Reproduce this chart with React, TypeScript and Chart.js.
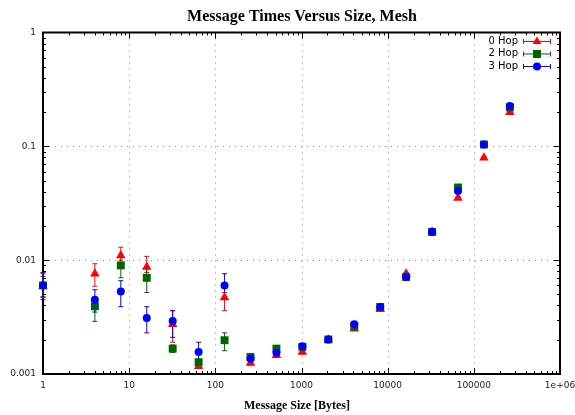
import { useEffect, useRef } from "react";
import { Chart, registerables } from "chart.js";

Chart.register(...registerables);

const chartTitle = "Message Times Versus Size, Mesh";
const xAxisTitle = "Message Size [Bytes]";
const seriesLabels = ["0 Hop", "2 Hop", "3 Hop"];
const seriesColors = ["#ff0000", "#006400", "#0000ff"];
const seriesPointStyles = ["triangle", "rect", "circle"];

const messageSizes = [1, 4, 8, 16, 32, 64, 128, 256, 512, 1024, 2048, 4096, 8192, 16384, 32768, 65536, 131072, 262144];

const hop0Times = [0.0059, 0.0076, 0.011, 0.0087, 0.00273, 0.00117, 0.0047, 0.00125, 0.00146, 0.00156, 0.002, 0.0025, 0.0037, 0.0076, 0.0178, 0.0352, 0.0792, 0.199];
const hop0Low = [0.0047, 0.0059, 0.01, 0.0078, 0.0019, 0.00112, 0.0036, 0.0012, 0.0014, 0.0015, 0.00195, 0.00245, 0.0036, 0.0074, 0.0174, 0.0345, 0.078, 0.196];
const hop0High = [0.0076, 0.0093, 0.013, 0.0108, 0.0036, 0.00122, 0.0052, 0.0013, 0.0015, 0.0016, 0.00205, 0.00255, 0.0038, 0.0078, 0.0182, 0.036, 0.081, 0.202];

const hop2Times = [0.006, 0.00393, 0.009, 0.007, 0.00167, 0.00127, 0.00198, 0.00141, 0.00167, 0.00173, 0.00201, 0.00262, 0.00388, 0.0071, 0.0177, 0.0435, 0.1038, 0.22];
const hop2Low = [0.0048, 0.0029, 0.007, 0.0052, 0.00155, 0.0012, 0.0016, 0.00135, 0.0016, 0.00166, 0.00195, 0.00255, 0.0038, 0.0069, 0.0173, 0.0425, 0.101, 0.216];
const hop2High = [0.0072, 0.0047, 0.0107, 0.0085, 0.0018, 0.00134, 0.0023, 0.00147, 0.00174, 0.0018, 0.00207, 0.0027, 0.00396, 0.0073, 0.0181, 0.0445, 0.106, 0.224];

const hop3Times = [0.006, 0.0045, 0.0053, 0.0031, 0.00292, 0.00156, 0.006, 0.00136, 0.00154, 0.00175, 0.00201, 0.00273, 0.00388, 0.0071, 0.0177, 0.0406, 0.1038, 0.226];
const hop3Low = [0.0045, 0.0035, 0.0039, 0.0023, 0.0021, 0.0013, 0.0046, 0.0013, 0.00148, 0.00168, 0.00195, 0.00265, 0.0038, 0.0069, 0.0173, 0.0398, 0.101, 0.221];
const hop3High = [0.0078, 0.0055, 0.0066, 0.0039, 0.0036, 0.0019, 0.0076, 0.00142, 0.0016, 0.00182, 0.00207, 0.00281, 0.00396, 0.0073, 0.0181, 0.0414, 0.106, 0.231];

const seriesTimes = [hop0Times, hop2Times, hop3Times];
const seriesLow = [hop0Low, hop2Low, hop3Low];
const seriesHigh = [hop0High, hop2High, hop3High];

const xTickValues = [1, 10, 100, 1000, 10000, 100000, 1000000];
const xTickLabels = ["1", "10", "100", "1000", "10000", "100000", "1e+06"];
const yTickValues = [0.001, 0.01, 0.1, 1];
const yTickLabels = ["0.001", "0.01", "0.1", "1"];

function drawMarker(ctx: CanvasRenderingContext2D, style: string, x: number, y: number, color: string) {
  ctx.fillStyle = color;
  ctx.beginPath();
  if (style === "triangle") {
    const r = 5;
    ctx.moveTo(x, y - r);
    ctx.lineTo(x + r * 0.866, y + r * 0.5);
    ctx.lineTo(x - r * 0.866, y + r * 0.5);
    ctx.closePath();
  } else if (style === "rect") {
    ctx.rect(x - 4, y - 4, 8, 8);
  } else {
    ctx.arc(x, y, 4, 0, Math.PI * 2);
  }
  ctx.fill();
}

const decorPlugin = {
  id: "decor",
  beforeDatasetsDraw(chart: any) {
    const { ctx, chartArea: a, scales } = chart;
    const x = scales.x;
    const y = scales.y;
    ctx.save();
    // dotted grid
    ctx.strokeStyle = "#8a8a8a";
    ctx.lineWidth = 1;
    ctx.setLineDash([1, 5]);
    xTickValues.slice(1, -1).forEach((v) => {
      const px = Math.round(x.getPixelForValue(v)) + 0.5;
      ctx.beginPath();
      ctx.moveTo(px, a.top);
      ctx.lineTo(px, a.bottom);
      ctx.stroke();
    });
    yTickValues.slice(1, -1).forEach((v) => {
      const py = Math.round(y.getPixelForValue(v)) + 0.5;
      ctx.beginPath();
      ctx.moveTo(a.left, py);
      ctx.lineTo(a.right, py);
      ctx.stroke();
    });
    ctx.setLineDash([]);
    // inward ticks
    ctx.strokeStyle = "#000";
    ctx.lineWidth = 1;
    for (let i = 0; i < xTickValues.length - 1; i++) {
      for (let m = 1; m <= 9; m++) {
        const v = xTickValues[i] * m;
        const px = Math.round(x.getPixelForValue(v)) + 0.5;
        const len = m === 1 ? 6 : 3;
        ctx.beginPath();
        ctx.moveTo(px, a.bottom);
        ctx.lineTo(px, a.bottom - len);
        ctx.moveTo(px, a.top);
        ctx.lineTo(px, a.top + len);
        ctx.stroke();
      }
    }
    for (let i = 0; i < yTickValues.length - 1; i++) {
      for (let m = 1; m <= 9; m++) {
        const v = yTickValues[i] * m;
        const py = Math.round(y.getPixelForValue(v)) + 0.5;
        const len = m === 1 ? 6 : 3;
        ctx.beginPath();
        ctx.moveTo(a.left, py);
        ctx.lineTo(a.left + len, py);
        ctx.moveTo(a.right, py);
        ctx.lineTo(a.right - len, py);
        ctx.stroke();
      }
    }
    // frame
    ctx.lineWidth = 2;
    ctx.strokeRect(a.left, a.top, a.right - a.left, a.bottom - a.top);
    // error bars
    ctx.lineWidth = 1;
    seriesTimes.forEach((_vals, si) => {
      ctx.strokeStyle = seriesColors[si];
      messageSizes.forEach((s, i) => {
        const px = x.getPixelForValue(s);
        const lo = y.getPixelForValue(seriesLow[si][i]);
        const hi = y.getPixelForValue(seriesHigh[si][i]);
        ctx.beginPath();
        ctx.moveTo(px, lo);
        ctx.lineTo(px, hi);
        ctx.moveTo(px - 2.5, lo);
        ctx.lineTo(px + 2.5, lo);
        ctx.moveTo(px - 2.5, hi);
        ctx.lineTo(px + 2.5, hi);
        ctx.stroke();
      });
    });
    ctx.restore();
  },
  afterDraw(chart: any) {
    const { ctx } = chart;
    ctx.save();
    ctx.fillStyle = "#000";
    ctx.textAlign = "center";
    ctx.textBaseline = "alphabetic";
    ctx.font = "bold 16px 'Liberation Serif'";
    ctx.fillText(chartTitle, 302, 21);
    ctx.font = "bold 12px 'Liberation Serif'";
    ctx.fillText(xAxisTitle, 297, 409);
    // legend
    seriesLabels.forEach((label, i) => {
      const ly = 41 + i * 12.5;
      ctx.fillStyle = "#000";
      ctx.textAlign = "right";
      ctx.textBaseline = "middle";
      ctx.font = "10px 'DejaVu Sans'";
      ctx.fillText(label, 518, ly);
      ctx.strokeStyle = seriesColors[i];
      ctx.lineWidth = 1;
      ctx.beginPath();
      ctx.moveTo(523, ly + 0.5);
      ctx.lineTo(551, ly + 0.5);
      ctx.moveTo(523.5, ly - 2);
      ctx.lineTo(523.5, ly + 3);
      ctx.moveTo(550.5, ly - 2);
      ctx.lineTo(550.5, ly + 3);
      ctx.stroke();
      drawMarker(ctx, seriesPointStyles[i], 537, ly + 0.5, seriesColors[i]);
    });
    ctx.restore();
  },
};

export default function App() {
  const ref = useRef<HTMLCanvasElement | null>(null);
  useEffect(() => {
    document.body.style.margin = "0";
    const canvas = ref.current;
    if (!canvas) return;
    const datasets = seriesLabels.map((label, si) => ({
      label,
      data: messageSizes.map((s, i) => ({ x: s, y: seriesTimes[si][i] })),
      showLine: false,
      pointStyle: seriesPointStyles[si],
      pointRadius: si === 0 ? 5.5 : si === 1 ? 5.6 : 4,
      pointBorderWidth: 0,
      backgroundColor: seriesColors[si],
      borderColor: seriesColors[si],
      order: 3 - si,
      clip: false as any,
    }));
    const chart = new Chart(canvas, {
      type: "scatter",
      data: { datasets },
      options: {
        animation: false,
        responsive: false,
        maintainAspectRatio: false,
        layout: { padding: { left: 0, right: 15, top: 32.5, bottom: 0 } },
        plugins: { legend: { display: false }, tooltip: { enabled: false }, title: { display: false } },
        scales: {
          x: {
            type: "logarithmic",
            min: 1,
            max: 1000000,
            grid: { display: false, drawTicks: false },
            border: { display: false },
            afterBuildTicks: (s: any) => {
              s.ticks = xTickValues.map((v) => ({ value: v }));
            },
            afterFit: (s: any) => {
              s.height = 41;
              s.paddingLeft = 0;
              s.paddingRight = 0;
            },
            ticks: {
              autoSkip: false,
              maxRotation: 0,
              padding: 6,
              color: "#222",
              font: { family: "DejaVu Sans", size: 9 },
              callback: (v: any) => {
                const idx = xTickValues.indexOf(Number(v));
                return idx >= 0 ? xTickLabels[idx] : "";
              },
            },
          },
          y: {
            type: "logarithmic",
            min: 0.001,
            max: 1,
            grid: { display: false, drawTicks: false },
            border: { display: false },
            afterBuildTicks: (s: any) => {
              s.ticks = yTickValues.map((v) => ({ value: v }));
            },
            afterFit: (s: any) => {
              s.width = 43;
              s.paddingTop = 0;
              s.paddingBottom = 0;
            },
            ticks: {
              autoSkip: false,
              padding: 7,
              color: "#222",
              font: { family: "DejaVu Sans", size: 9 },
              callback: (v: any) => {
                const idx = yTickValues.findIndex((t) => Math.abs(t - Number(v)) < t * 1e-6);
                return idx >= 0 ? yTickLabels[idx] : "";
              },
            },
          },
        },
      },
      plugins: [decorPlugin],
    });
    return () => chart.destroy();
  }, []);
  return <canvas ref={ref} width={575} height={415} style={{ display: "block" }} />;
}
